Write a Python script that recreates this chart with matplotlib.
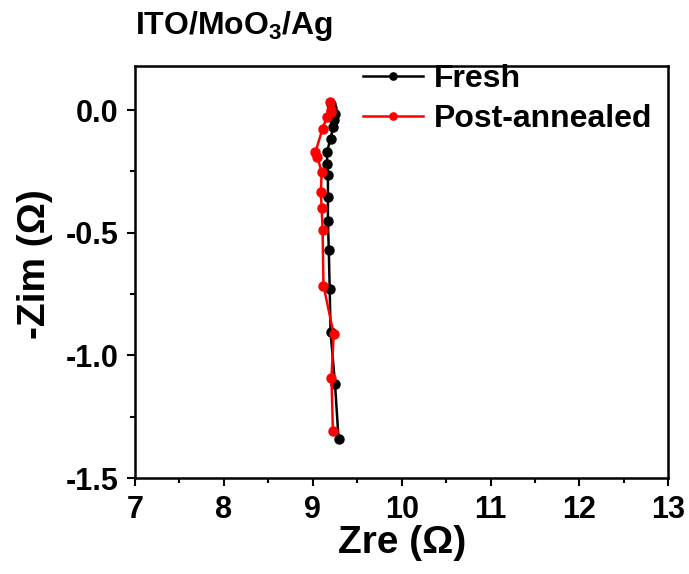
import matplotlib
matplotlib.use("Agg")
import matplotlib.pyplot as plt
from matplotlib.ticker import MultipleLocator

plt.rcParams['font.family'] = ['Liberation Sans', 'DejaVu Sans']
plt.rcParams['font.weight'] = 'bold'
plt.rcParams['axes.unicode_minus'] = False
plt.rcParams['mathtext.fontset'] = 'custom'
plt.rcParams['mathtext.bf'] = 'Liberation Sans:bold'
plt.rcParams['mathtext.rm'] = 'Liberation Sans:bold'

fresh_zre = [9.20, 9.22, 9.25, 9.24, 9.23, 9.20, 9.16, 9.16, 9.17, 9.17, 9.17, 9.18, 9.19, 9.20, 9.25, 9.29]
fresh_zim = [0.027, 0.010, -0.014, -0.040, -0.068, -0.116, -0.170, -0.218, -0.266, -0.354, -0.450, -0.572, -0.729, -0.906, -1.117, -1.342]

post_zre = [9.19, 9.21, 9.20, 9.16, 9.11, 9.03, 9.05, 9.10, 9.09, 9.10, 9.11, 9.12, 9.235, 9.21, 9.226]
post_zim = [0.034, 0.000, -0.009, -0.027, -0.075, -0.170, -0.190, -0.252, -0.334, -0.400, -0.490, -0.715, -0.913, -1.090, -1.308]

fig = plt.figure(figsize=(6.89, 5.74), dpi=100)
ax = fig.add_axes([0.196, 0.167, 0.774, 0.718])

ax.plot(fresh_zre, fresh_zim, '-o', color='black', lw=1.8, ms=6.5, label='Fresh')
ax.plot(post_zre, post_zim, '-o', color='red', lw=1.8, ms=6.5, label='Post-annealed')

ax.set_xlim(7, 13)
ax.set_ylim(-1.5, 0.18)
ax.xaxis.set_major_locator(MultipleLocator(1))
ax.xaxis.set_minor_locator(MultipleLocator(0.5))
ax.yaxis.set_major_locator(MultipleLocator(0.5))
ax.yaxis.set_minor_locator(MultipleLocator(0.25))
ax.tick_params(which='major', direction='out', length=6, width=1.5, labelsize=22, pad=6)
ax.tick_params(which='minor', direction='out', length=3.5, width=1.5)
for s in ax.spines.values():
    s.set_linewidth(1.8)
for lab in ax.get_xticklabels() + ax.get_yticklabels():
    lab.set_fontweight('bold')

ax.set_xlabel('Zre (Ω)', fontsize=28, fontweight='bold', labelpad=0)
ax.set_ylabel('-Zim (Ω)', fontsize=28, fontweight='bold')
ax.yaxis.set_label_coords(-0.154, 0.52)
ax.set_title('ITO/MoO$_\\mathbf{3}$/Ag', loc='left', fontsize=23, fontweight='bold', pad=23)

leg = ax.legend(loc='upper right', bbox_to_anchor=(0.975, 1.012), frameon=False, fontsize=23,
                handlelength=1.85, handletextpad=0.34, borderaxespad=0.0, borderpad=0.1,
                labelspacing=0.3, markerscale=0.8)
for t in leg.get_texts():
    t.set_fontweight('bold')

fig.savefig('out.png', dpi=100)
